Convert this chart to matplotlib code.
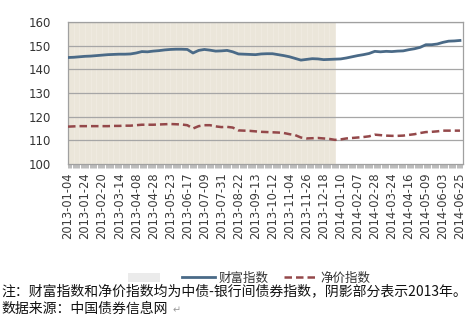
import matplotlib
matplotlib.use("Agg")
import matplotlib.pyplot as plt
from matplotlib.lines import Line2D
from matplotlib.patches import Patch

plt.rcParams['font.family'] = ['DejaVu Sans', 'Noto Sans CJK SC']

tick_labels = ["2013-01-04", "2013-01-24", "2013-02-20", "2013-03-14", "2013-04-08",
               "2013-04-28", "2013-05-23", "2013-06-17", "2013-07-09", "2013-07-31",
               "2013-08-22", "2013-09-13", "2013-10-12", "2013-11-04", "2013-11-26",
               "2013-12-18", "2014-01-10", "2014-02-07", "2014-02-28", "2014-03-24",
               "2014-04-16", "2014-05-09", "2014-06-03", "2014-06-25"]

# sampled roughly every 5 trading days (3 samples per labelled interval)
wealth = [145.0, 145.1, 145.3, 145.5, 145.6, 145.8, 146.0, 146.2, 146.3, 146.4,
          146.4, 146.5, 146.9, 147.5, 147.4, 147.7, 147.9, 148.2, 148.4, 148.5,
          148.5, 148.4, 146.9, 148.0, 148.4, 148.1, 147.7, 147.8, 148.0, 147.4,
          146.5, 146.4, 146.3, 146.2, 146.5, 146.6, 146.6, 146.2, 145.8, 145.3,
          144.6, 143.9, 144.2, 144.5, 144.4, 144.1, 144.2, 144.3, 144.4, 144.8,
          145.3, 145.8, 146.2, 146.7, 147.6, 147.4, 147.6, 147.5, 147.7, 147.8,
          148.3, 148.7, 149.3, 150.4, 150.4, 150.7, 151.4, 151.9, 152.0, 152.2]
netprice = [115.8, 115.9, 116.0, 116.0, 116.0, 116.0, 116.0, 116.0, 116.1, 116.1,
            116.2, 116.2, 116.4, 116.6, 116.6, 116.6, 116.7, 116.8, 116.9, 116.8,
            116.7, 116.4, 115.0, 116.0, 116.4, 116.4, 115.9, 115.6, 115.7, 115.4,
            114.2, 114.1, 114.0, 113.8, 113.6, 113.5, 113.4, 113.3, 113.1, 112.6,
            112.2, 111.2, 110.8, 110.9, 111.0, 110.8, 110.6, 110.2, 110.4, 110.8,
            111.0, 111.2, 111.4, 111.7, 112.4, 112.2, 112.0, 111.9, 111.9, 112.0,
            112.3, 112.6, 113.1, 113.5, 113.6, 113.8, 114.1, 114.1, 114.1, 114.1]
n_2013 = 47  # samples belonging to 2013
label_step = 3

fig = plt.figure(figsize=(4.74, 3.17), dpi=100)
ax = fig.add_axes([0.1435, 0.4826, 0.977 - 0.1435, 0.9306 - 0.4826])

x = list(range(len(wealth)))
xmax = len(wealth) - 1 + 0.55

ax.axvspan(-0.1, n_2013 + 0.1, color='#ebe6da', zorder=0, lw=0)
for i in range(0, n_2013 + 1):
    ax.axvline(i, color='#f1ede4', lw=0.5, zorder=0.5)

ax.set_ylim(100, 160)
ax.set_xlim(0, xmax)
ax.set_yticks(range(100, 161, 10))
for v in range(110, 161, 10):
    ax.axhline(v, color='#a6a6a6', lw=0.9, zorder=1)

ax.plot(x, wealth, color='#4a6a87', lw=2.0, zorder=3)
ax.plot(x, netprice, color='#94484a', lw=1.8, ls=(0, (3, 1.6)), zorder=3)

ticks = list(range(0, len(wealth), label_step))
ax.set_xticks(ticks)
ax.set_xticklabels(tick_labels, rotation=90, fontsize=8.3, color='#3a3a3a')
ax.set_xticks([i * 0.2 for i in range(int(xmax / 0.2) + 1)], minor=True)
ax.tick_params(axis='x', which='both', length=3, color='#b0b0b0', width=0.6, pad=3)
ax.tick_params(axis='y', length=0, labelsize=8.5, labelcolor='#333333', pad=12)

for s in ax.spines.values():
    s.set_color('#a0a0a0')
    s.set_linewidth(0.9)

handles = [Patch(facecolor='#ebebeb', edgecolor='none'),
           Line2D([], [], color='#4a6a87', lw=2.0),
           Line2D([], [], color='#94484a', lw=1.8, ls=(0, (3, 1.6)))]
labels = [' ', '财富指数', '净价指数']
leg = fig.legend(handles, labels, loc='center', bbox_to_anchor=(0.525, 0.123), ncol=3,
                 frameon=False, handlelength=2.6, handletextpad=0.25,
                 columnspacing=1.3, prop={'family': ['Noto Sans CJK SC'], 'size': 9})
for t in leg.get_texts():
    t.set_color('#333333')

fig.text(0.004, 0.082, '注：财富指数和净价指数均为中债-银行间债券指数，阴影部分表示2013年。',
         family=['Noto Sans CJK SC', 'DejaVu Sans'], fontsize=10, va='center', ha='left',
         color='#111111')
fig.text(0.004, 0.025, '数据来源：中国债券信息网',
         family=['Noto Sans CJK SC', 'DejaVu Sans'], fontsize=10, va='center', ha='left',
         color='#111111')
fig.text(0.364, 0.022, '↵', family=['DejaVu Sans'], fontsize=7, va='center', ha='left',
         color='#999999')

fig.savefig('out.png', dpi=100)
